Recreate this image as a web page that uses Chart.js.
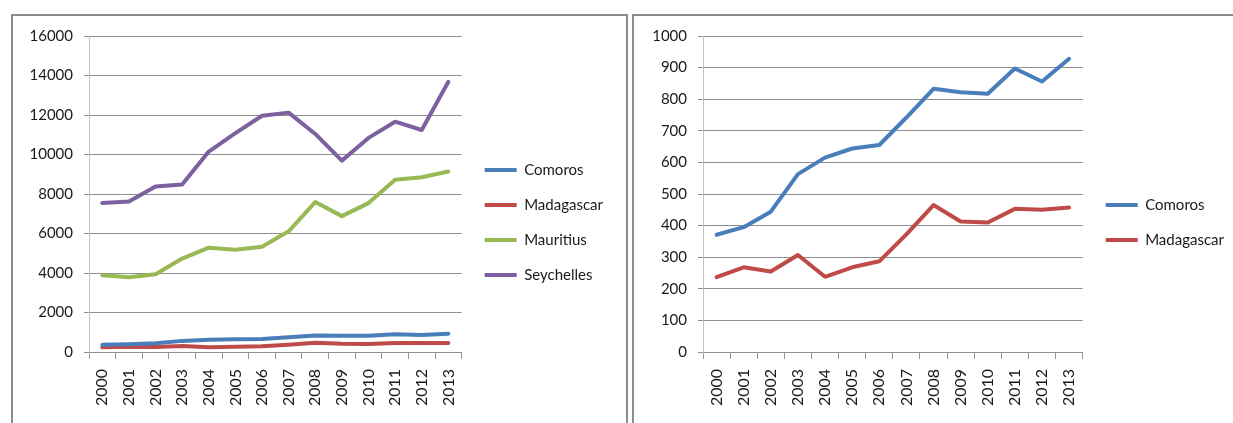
<!DOCTYPE html>
<html>
<head>
<meta charset="utf-8">
<script src="https://cdn.jsdelivr.net/npm/chart.js@4.4.1/dist/chart.umd.min.js"></script>
<style>
  html, body { margin: 0; padding: 0; background: #fff; overflow: hidden; }
  body { width: 1233px; height: 423px; position: relative; }
  .panel { position: absolute; top: 14px; width: 617px; height: 440px; border: 2px solid #8c8c8c; box-sizing: border-box; background: #fff; }
  .panel canvas { position: absolute; left: 0; top: 0; }
</style>
</head>
<body>
<div class="panel" style="left:11px"><canvas id="allIslands" width="613" height="394"></canvas></div>
<div class="panel" style="left:632px"><canvas id="twoIslands" width="613" height="394"></canvas></div>
<script>
// Years on the category axis
const years = ['2000','2001','2002','2003','2004','2005','2006','2007','2008','2009','2010','2011','2012','2013'];

// Per-country series
const comoros    = [371, 395, 444, 563, 615, 644, 655, 742, 833, 822, 817, 897, 856, 928];
const madagascar = [237, 268, 255, 307, 238, 268, 287, 372, 465, 413, 410, 453, 450, 457];
const mauritius  = [3890, 3790, 3940, 4730, 5280, 5180, 5330, 6110, 7590, 6880, 7540, 8720, 8850, 9140];
const seychelles = [7540, 7620, 8380, 8480, 10150, 11080, 11960, 12120, 11040, 9690, 10840, 11660, 11240, 13680];

// Y-axis tick settings
const leftAxisMax = 16000, leftAxisStep = 2000;
const rightAxisMax = 1000, rightAxisStep = 100;

const COLORS = {
  Comoros: '#4a7ebb',
  Madagascar: '#be4b48',
  Mauritius: '#98b954',
  Seychelles: '#7d60a0'
};

const FONT = 'Lato, "Open Sans", "Liberation Sans", sans-serif';
const TEXT = '#1a1a1a';

function series(label, data) {
  return {
    label, data,
    borderColor: COLORS[label],
    backgroundColor: COLORS[label],
    borderWidth: 4,
    pointRadius: 0,
    pointHoverRadius: 0,
    tension: 0,
    borderJoinStyle: 'round',
    borderCapStyle: 'round'
  };
}

// nudges the legend a few pixels away from the plot area
const legendNudge = {
  id: 'legendNudge',
  afterLayout(chart, args, opts) {
    const lg = chart.legend;
    if (lg) { lg.left += opts.dx; lg.right += opts.dx; }
  }
};

function makeChart(id, datasets, max, step, yWidth, padRight) {
  return new Chart(document.getElementById(id), {
    type: 'line',
    data: { labels: years, datasets },
    plugins: [legendNudge],
    options: {
      responsive: false,
      animation: false,
      devicePixelRatio: 1,
      layout: { padding: { top: 19, right: padRight, bottom: 0, left: 0 } },
      plugins: {
        tooltip: { enabled: false },
        legendNudge: { dx: 3 },
        legend: {
          position: 'right',
          labels: {
            font: { family: FONT, size: 15 },
            color: TEXT,
            boxWidth: 32,
            boxHeight: 4,
            padding: 20,
            generateLabels(chart) {
              return Chart.defaults.plugins.legend.labels.generateLabels(chart)
                .map(item => Object.assign(item, { lineWidth: 0 }));
            }
          }
        }
      },
      scales: {
        x: {
          offset: true,
          grid: {
            offset: true,
            drawOnChartArea: false,
            drawTicks: true,
            tickLength: 7,
            color: '#9a9a9a'
          },
          border: { color: '#8e8e8e' },
          ticks: {
            font: { family: FONT, size: 16 },
            color: TEXT,
            maxRotation: 90,
            minRotation: 90,
            padding: 10,
            autoSkip: false
          },
          afterFit(scale) { scale.height = 58; }
        },
        y: {
          min: 0,
          max,
          grid: { color: '#8e8e8e', tickLength: 5 },
          border: { color: '#c4c4c4' },
          ticks: {
            stepSize: step,
            font: { family: FONT, size: 15 },
            color: TEXT,
            padding: 11,
            callback: v => String(v)
          },
          afterFit(scale) { scale.width = yWidth; }
        }
      }
    }
  });
}

makeChart('allIslands', [
  series('Comoros', comoros),
  series('Madagascar', madagascar),
  series('Mauritius', mauritius),
  series('Seychelles', seychelles)
], leftAxisMax, leftAxisStep, 76, 16);

makeChart('twoIslands', [
  series('Comoros', comoros),
  series('Madagascar', madagascar)
], rightAxisMax, rightAxisStep, 69, 16);
</script>
</body>
</html>
